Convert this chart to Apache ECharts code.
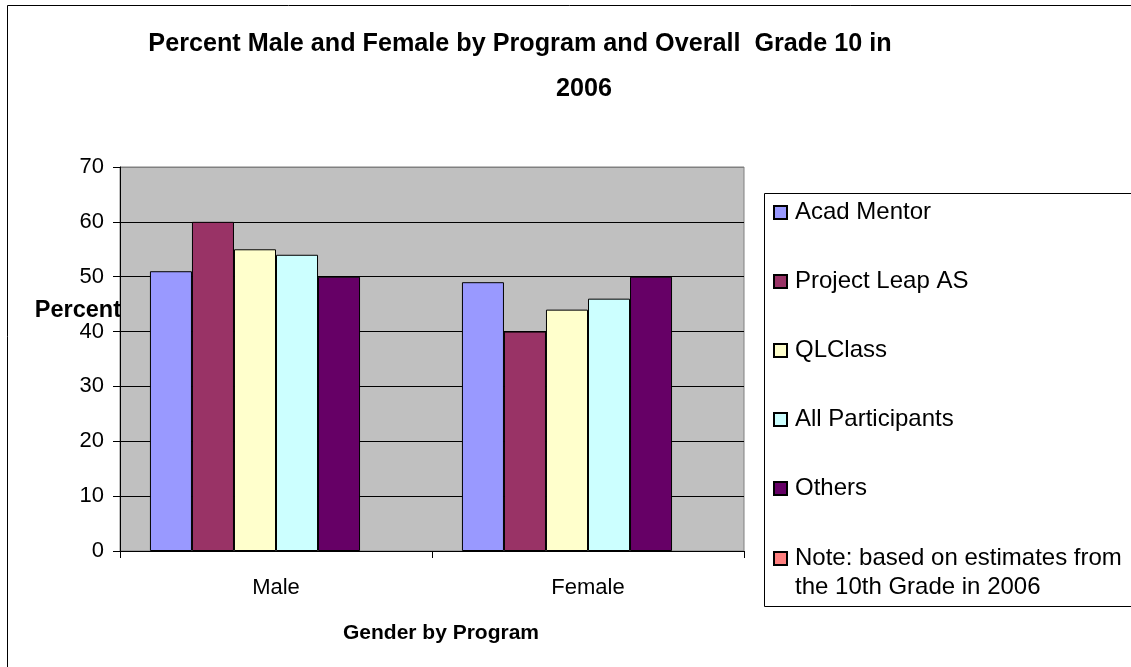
<!DOCTYPE html>
<html>
<head>
<meta charset="utf-8">
<script src="https://cdn.jsdelivr.net/npm/echarts@6/dist/echarts.min.js"></script>
<style>
  html, body { margin: 0; padding: 0; background: #fff; }
  #chart { width: 1131px; height: 667px; }
</style>
</head>
<body>
<div id="chart"></div>
<script>
// categories and values
const categories = ['Male', 'Female'];
const seriesNames = ['Acad Mentor', 'Project Leap AS', 'QLClass', 'All Participants', 'Others',
    'Note: based on estimates from\nthe 10th Grade in 2006'];
const acadMentor = [51, 49];
const projectLeap = [60, 40];
const qlClass = [55, 44];
const allParticipants = [54, 46];
const others = [50, 50];
const note = [null, null];
const colors = ['#9999ff', '#993366', '#ffffcc', '#ccffff', '#660066', '#ff8080'];

const values = [acadMentor, projectLeap, qlClass, allParticipants, others, note];
const font = 'Liberation Sans, Arial, sans-serif';

const titleText = {
    fontFamily: font,
    fontSize: 25.2,
    fontWeight: 'bold',
    color: '#000'
};

const legendText = {
    fontFamily: font,
    fontSize: 24,
    color: '#000',
    lineHeight: 29,
    padding: [0, 0, 0, 3]
};

const chart = echarts.init(document.getElementById('chart'));

const optionData = {
    animation: false,
    backgroundColor: '#fff',
    // title wraps like the original: each line centred on its own
    title: [
        {
            text: 'Percent Male and Female by Program and Overall  Grade 10 in',
            left: 520,
            top: 32,
            padding: 0,
            textAlign: 'center',
            textStyle: titleText
        },
        {
            text: '2006',
            left: 584,
            top: 77,
            padding: 0,
            textAlign: 'center',
            textStyle: titleText
        }
    ],
    grid: {
        left: 120,
        right: 387,
        top: 167,
        bottom: 116,
        show: true,
        backgroundColor: '#c0c0c0',
        borderColor: '#808080',
        borderWidth: 1
    },
    legend: [
        {
            orient: 'vertical',
            left: 773,
            top: 198,
            padding: 0,
            itemGap: 40,
            itemWidth: 13,
            itemHeight: 13,
            icon: 'rect',
            selectedMode: false,
            textStyle: legendText,
            data: seriesNames.slice(0, 5)
        },
        {
            // the note sits on its own so its first line lines up with the swatch
            orient: 'vertical',
            left: 773,
            top: 515,
            padding: 0,
            itemWidth: 13,
            itemHeight: 13,
            icon: 'rect',
            selectedMode: false,
            textStyle: legendText,
            formatter: function (name) { return '\n' + name; },
            data: seriesNames.slice(5)
        }
    ],
    xAxis: {
        type: 'category',
        data: categories,
        name: 'Gender by Program',
        nameLocation: 'middle',
        nameGap: 72,
        nameTextStyle: {
            fontFamily: font,
            fontSize: 21,
            fontWeight: 'bold',
            color: '#000',
            padding: [0, 0, 0, 18]
        },
        axisLine: { lineStyle: { color: '#000', width: 1 } },
        axisTick: { show: true, length: 7, lineStyle: { color: '#000' } },
        axisLabel: {
            margin: 26,
            fontFamily: font,
            fontSize: 22,
            color: '#000'
        }
    },
    yAxis: {
        type: 'value',
        min: 0,
        max: 70,
        interval: 10,
        axisLine: { show: true, lineStyle: { color: '#000', width: 1 } },
        axisTick: { show: true, length: 7, lineStyle: { color: '#000' } },
        axisLabel: {
            margin: 16,
            fontFamily: font,
            fontSize: 22,
            color: '#000'
        },
        splitLine: {
            show: true,
            lineStyle: {
                color: ['#000', '#000', '#000', '#000', '#000', '#000', '#000', '#808080'],
                width: 1
            }
        }
    },
    graphic: [
        {
            type: 'rect',
            shape: { x: 7.5, y: 5.5, width: 1300, height: 800 },
            style: { fill: 'none', stroke: '#000', lineWidth: 1 },
            silent: true
        },
        {
            type: 'rect',
            shape: { x: 764.5, y: 193.5, width: 500, height: 413 },
            style: { fill: '#fff', stroke: '#000', lineWidth: 1 },
            z: -1,
            silent: true
        },
        {
            type: 'text',
            x: 121,
            y: 311,
            style: {
                text: 'Percent',
                fontFamily: font,
                fontSize: 23.5,
                fontWeight: 'bold',
                fill: '#000',
                align: 'right',
                verticalAlign: 'middle'
            },
            z: 10
        }
    ],
    series: seriesNames.map((n, i) => ({
        name: n,
        type: 'bar',
        data: values[i],
        barGap: '0%',
        barCategoryGap: '19.2%',
        itemStyle: {
            color: colors[i],
            borderColor: '#000',
            borderWidth: 1
        }
    }))
};

chart.setOption(optionData);
</script>
</body>
</html>
